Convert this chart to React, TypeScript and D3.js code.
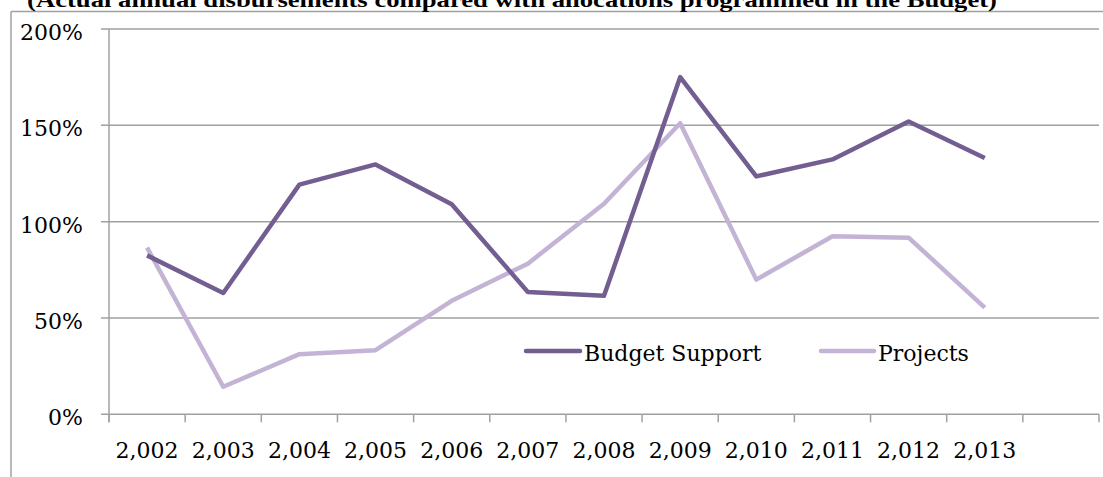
import React from "react";
import * as d3 from "d3";

const years = ["2,002", "2,003", "2,004", "2,005", "2,006", "2,007", "2,008", "2,009", "2,010", "2,011", "2,012", "2,013"];
const budgetSupport = [82.5, 63, 119.2, 129.7, 109, 63.5, 61.5, 175, 123.5, 132.3, 152, 133];
const projects = [86.5, 14.3, 31.2, 33.3, 58.9, 78.2, 109.3, 151.1, 69.9, 92.4, 91.7, 55.4];
const yTicks = [0, 50, 100, 150, 200];
const title = "(Actual annual disbursements compared with allocations programmed in the Budget)";
const seriesNames = ["Budget Support", "Projects"];

const W = 1103;
const H = 477;
const left = 109;
const right = 1099;
const top = 29;
const bottom = 414.3;
const darkColor = "#735E91";
const lightColor = "#C3B4D6";
const gridColor = "#A0A0A0";
const labelFont = "'DejaVu Serif', serif";
const fs = 22;

export default function App() {
  const slots = [...years, ""];
  const x = d3.scaleBand<string>().domain(slots.map((d, i) => String(i))).range([left, right]).padding(0);
  const y = d3.scaleLinear().domain([0, 200]).range([bottom, top]);
  const cx = (i: number) => (x(String(i)) as number) + x.bandwidth() / 2;
  const line = d3
    .line<number>()
    .x((_, i) => cx(i))
    .y((d) => y(d));

  const edges = d3.range(slots.length + 1).map((i) => left + i * x.bandwidth());

  return (
    <svg width={W} height={H} style={{ position: "absolute", left: 0, top: 0, background: "#fff" }}>
      {/* frame */}
      <line x1={11} x2={W} y1={11.5} y2={11.5} stroke={gridColor} strokeWidth={1.5} />
      <line x1={11} x2={11} y1={11.5} y2={H} stroke={gridColor} strokeWidth={1.5} />
      {/* title */}
      <text
        x={27}
        y={7}
        fontFamily="'Liberation Serif', 'Times New Roman', serif"
        fontWeight="bold"
        fontSize={22}
        textLength={970}
        lengthAdjust="spacingAndGlyphs"
        fill="#000"
      >
        {title}
      </text>
      {/* gridlines */}
      {yTicks.map((t) => (
        <g key={t}>
          <line x1={left - 8} x2={right} y1={y(t)} y2={y(t)} stroke={gridColor} strokeWidth={1.5} />
          <text
            x={83}
            y={y(t) + 11}
            textAnchor="end"
            fontFamily={labelFont}
            fontSize={fs}
            fill="#000"
          >
            {t}%
          </text>
        </g>
      ))}
      {/* y axis */}
      <line x1={left} x2={left} y1={top} y2={bottom + 8} stroke={gridColor} strokeWidth={1.5} />
      {/* x ticks */}
      {edges.map((e, i) => (
        <line key={i} x1={e} x2={e} y1={bottom} y2={bottom + 8} stroke={gridColor} strokeWidth={1.5} />
      ))}
      {years.map((yr, i) => (
        <text
          key={yr}
          x={cx(i)}
          y={458}
          textAnchor="middle"
          fontFamily={labelFont}
          fontSize={fs}
          fill="#000"
        >
          {yr}
        </text>
      ))}
      {/* series */}
      <path d={line(projects) || ""} fill="none" stroke={lightColor} strokeWidth={4.5} strokeLinejoin="round" />
      <path d={line(budgetSupport) || ""} fill="none" stroke={darkColor} strokeWidth={4.5} strokeLinejoin="round" />
      {/* legend */}
      <g>
        <line x1={526} x2={580} y1={351} y2={351} stroke={darkColor} strokeWidth={4.5} strokeLinecap="round" />
        <text x={584} y={361} fontFamily={labelFont} fontSize={fs} fill="#000">
          {seriesNames[0]}
        </text>
        <line x1={821} x2={874} y1={351} y2={351} stroke={lightColor} strokeWidth={4.5} strokeLinecap="round" />
        <text x={878} y={361} fontFamily={labelFont} fontSize={fs} fill="#000">
          {seriesNames[1]}
        </text>
      </g>
    </svg>
  );
}
